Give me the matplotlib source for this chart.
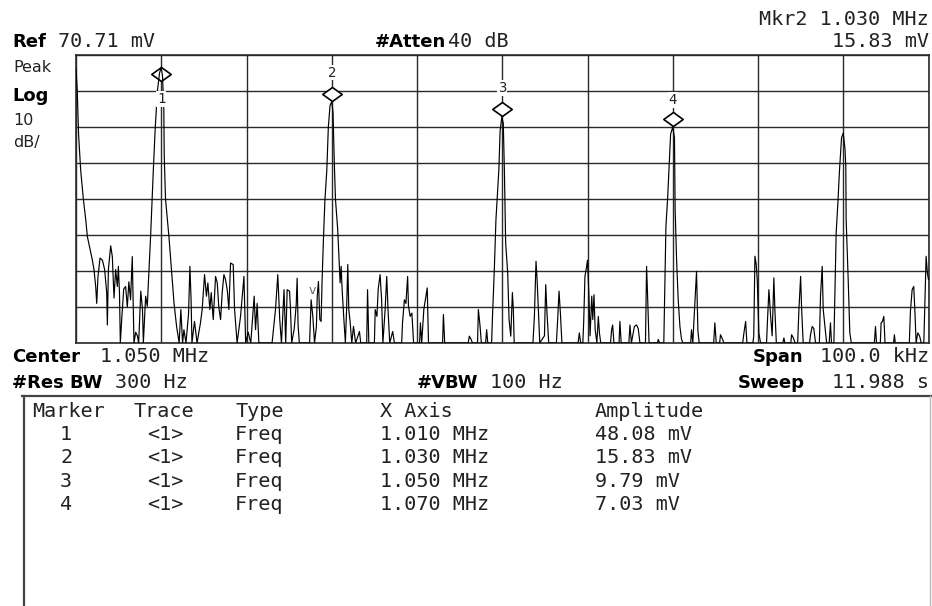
import numpy as np
import matplotlib
matplotlib.use('Agg')
import matplotlib.pyplot as plt
from matplotlib.path import Path
from matplotlib.transforms import offset_copy

# analyzer settings
ref_mv = 70.71
db_per_div = 10
n_ydiv = 8
center_mhz = 1.050
span_khz = 100.0

# trace: offset from start freq (kHz), level below ref (dB)
trace_khz = [
    0.0, 0.15, 0.3, 0.55, 0.86, 1.14, 1.33, 1.65, 1.92, 2.11, 2.31, 2.43, 2.58, 2.82, 3.1, 3.36,
    3.6, 3.68, 3.8, 4.07, 4.26, 4.46, 4.65, 4.85, 4.97, 5.1, 5.2, 5.4, 5.6, 5.82, 6.02, 6.2,
    6.4, 6.6, 6.8, 7.0, 7.2, 7.35, 7.6, 7.8, 7.9, 8.17, 8.36, 8.56, 8.75, 9.07, 9.3, 9.55,
    9.8, 10.0, 10.15, 10.3, 10.35, 10.5, 10.9, 11.2, 11.5, 11.8, 12.1, 12.3, 12.5, 12.66, 12.9, 13.2,
    13.36, 13.5, 13.6, 13.9, 14.2, 14.6, 14.8, 15.08, 15.3, 15.47, 15.7, 15.86, 16.1, 16.37, 16.57, 16.75,
    16.96, 17.15, 17.35, 17.54, 17.74, 17.93, 18.13, 18.44, 18.6, 18.9, 19.3, 19.7, 19.9, 20.2, 20.5, 20.9,
    21.06, 21.25, 21.45, 22.0, 23.0, 23.4, 23.67, 23.9, 24.1, 24.4, 24.6, 24.77, 25.05, 25.15, 25.3, 25.6,
    25.83, 25.94, 26.05, 26.2, 27.4, 27.58, 27.78, 27.98, 28.2, 28.3, 28.44, 28.6, 28.75, 28.87, 29.03, 29.2,
    29.42, 29.6, 29.8, 30.0, 30.15, 30.3, 30.44, 30.7, 30.79, 30.98, 31.1, 31.22, 31.4, 31.6, 31.75, 31.88,
    32.0, 32.15, 32.35, 32.55, 32.8, 33.25, 33.4, 34.1, 34.2, 34.35, 35.0, 35.1, 35.3, 35.45, 35.67, 35.85,
    36.0, 36.26, 36.45, 36.6, 36.8, 37.15, 37.35, 38.2, 38.3, 38.52, 38.7, 38.9, 39.0, 39.2, 39.4, 39.6,
    40.3, 40.4, 40.55, 40.8, 40.98, 41.2, 41.35, 43.0, 43.1, 43.25, 46.0, 46.14, 46.35, 46.5, 47.1, 47.2,
    47.4, 47.55, 48.05, 48.17, 48.3, 48.75, 48.87, 49.07, 49.26, 49.46, 49.6, 49.75, 49.95, 50.12, 50.25, 50.4,
    50.64, 50.8, 51.0, 51.19, 51.3, 51.4, 53.6, 53.77, 53.96, 54.1, 54.24, 54.4, 54.95, 55.1, 55.25, 55.45,
    56.35, 56.5, 56.66, 56.82, 57.0, 58.9, 59.04, 59.2, 59.45, 59.55, 59.7, 59.9, 60.0, 60.17, 60.3, 60.5,
    60.62, 60.76, 60.9, 61.1, 61.27, 61.4, 61.55, 62.7, 62.83, 62.95, 63.1, 63.7, 63.8, 63.95, 64.85, 64.98,
    65.15, 65.5, 65.76, 65.95, 66.15, 66.8, 66.93, 67.05, 67.22, 68.2, 68.3, 68.45, 68.95, 69.08, 69.2, 69.39,
    69.55, 69.75, 70.0, 70.2, 70.28, 70.45, 70.64, 70.84, 71.03, 71.2, 72.1, 72.2, 72.35, 72.6, 72.79, 72.95,
    73.1, 74.8, 74.94, 75.1, 75.5, 75.6, 75.85, 76.0, 78.2, 78.35, 78.55, 78.7, 79.4, 79.5, 79.64, 79.78,
    79.91, 80.1, 80.3, 81.0, 81.1, 81.28, 81.48, 81.66, 81.86, 81.98, 82.15, 82.9, 83.04, 83.15, 83.85, 83.94,
    84.15, 84.35, 84.65, 84.8, 85.0, 85.12, 85.3, 86.05, 86.16, 86.36, 86.55, 86.75, 87.2, 87.33, 87.53, 87.65,
    87.85, 88.05, 88.35, 88.5, 88.62, 88.9, 89.0, 89.17, 89.37, 89.56, 89.8, 90.0, 90.2, 90.3, 90.34, 90.58,
    90.77, 90.95, 93.65, 93.78, 93.9, 94.35, 94.44, 94.6, 94.76, 94.9, 95.9, 96.0, 96.1, 97.75, 97.88, 98.08,
    98.27, 98.4, 98.55, 98.74, 98.95, 99.15, 99.45, 99.56, 99.72, 99.87, 100.0,
]
trace_db = [
    -3.6, -10, -22, -32, -40, -45.7, -50.4, -54, -57, -59.6, -64.3, -69, -61.5, -56.4, -57, -59.6,
    -66, -75, -59.6, -53, -56, -67.5, -59.6, -64.3, -58.7, -66, -80, -72, -65, -64.3, -70, -63,
    -68, -56, -80, -77, -78, -80, -65.6, -70.7, -80, -67, -69.8, -59.6, -50.4, -32, -20, -10,
    -5, -3.4, -6, -15, -28, -40, -50.4, -59.6, -69, -75.4, -80, -70.7, -80, -76.3, -80, -72,
    -58.7, -68, -80, -74, -80, -74.4, -70.7, -61, -67, -63.3, -70.7, -66, -73.5, -61.5, -63.3, -70,
    -73.5, -66, -61, -62.4, -65.2, -70.7, -57.8, -58.2, -70.7, -80, -72.6, -61.5, -80, -77, -80, -67,
    -76.3, -69, -80, -80, -80, -70.7, -61, -73.5, -80, -65.2, -80, -65.2, -65.6, -70, -80, -76,
    -69.4, -62, -75, -80, -80, -68, -72.6, -80, -75.4, -67, -62.9, -73.5, -74, -62.4, -50.8, -40.2,
    -32, -20, -14, -13, -16, -30, -40.2, -48.5, -53.1, -63.3, -58.7, -65.2, -72.6, -80, -70, -58.2,
    -70.7, -74, -80, -75.4, -80, -76.8, -80, -80, -65.2, -80, -80, -70.7, -72.6, -65, -61, -68,
    -80, -70.7, -61.5, -70.7, -80, -76.8, -80, -80, -74.4, -68, -69, -61.5, -69.8, -72.6, -71.7, -80,
    -80, -74.4, -80, -70.7, -68, -64.7, -80, -80, -72.1, -80, -80, -78.1, -79, -80, -80, -70.7,
    -75.4, -80, -80, -76.3, -80, -80, -71.7, -59.6, -45.7, -37.4, -32, -21, -17.2, -19, -32, -52.2,
    -60.6, -73.5, -78.1, -66, -70.7, -80, -80, -72.6, -57.3, -63, -70.7, -80, -78, -63.8, -71.7, -80,
    -80, -73.5, -65.6, -71.7, -80, -80, -77.2, -80, -80, -74.4, -61.5, -58.7, -57, -67, -78, -67,
    -73.5, -66.6, -76.3, -80, -72.6, -77.2, -80, -80, -76.3, -75, -80, -80, -74, -80, -80, -75,
    -80, -75.4, -75, -76, -80, -80, -58.7, -67, -80, -80, -79, -80, -80, -62.4, -47.6, -40.2,
    -32, -22, -20, -23, -43, -56.9, -68, -75.4, -79, -80, -80, -76.3, -80, -68.9, -60.1, -76.6,
    -80, -80, -74.4, -80, -80, -77.7, -79, -80, -80, -77.2, -74, -80, -80, -78.1, -55.9, -58,
    -62.4, -77.2, -80, -80, -74.4, -65.2, -72.6, -78, -61.9, -70.7, -80, -80, -78.6, -80, -80, -77.7,
    -78.6, -80, -80, -70.7, -61.5, -70.7, -80, -80, -77.7, -75.4, -76, -80, -80, -67, -58.7, -70.7,
    -75.4, -80, -80, -74.4, -80, -80, -69, -49.4, -41.1, -32, -23, -21.7, -26, -31, -45.7, -62.4,
    -77.2, -80, -80, -75.4, -80, -80, -74.4, -74, -72.6, -80, -80, -77.7, -80, -80, -71.2, -65.2,
    -64.3, -71, -80, -77.2, -78, -80, -80, -69.8, -55.9, -60.6, -62.4,
]

# marker table
marker_ids = ['1', '2', '3', '4']
marker_mhz = [1.010, 1.030, 1.050, 1.070]
marker_mv = [48.08, 15.83, 9.79, 7.03]
marker_freq_txt = ['1.010 MHz', '1.030 MHz', '1.050 MHz', '1.070 MHz']
marker_amp_txt = ['48.08 mV', '15.83 mV', '9.79 mV', '7.03 mV']

W, H = 932, 606
fig = plt.figure(figsize=(W / 100, H / 100), dpi=100)
fig.patch.set_facecolor('white')

ref_dbmv = 20 * np.log10(ref_mv)
f_mhz = 1.0 + np.array(trace_khz) / 1000.0
lvl = ref_dbmv + np.array(trace_db)

# graticule
x0, x1, y0, y1 = 76, 928.5, 55, 343
ax = fig.add_axes([x0 / W, 1 - y1 / H, (x1 - x0) / W, (y1 - y0) / H])
f_lo = center_mhz - span_khz / 2000
f_hi = center_mhz + span_khz / 2000
ax.set_xlim(f_lo, f_hi)
ax.set_ylim(ref_dbmv - n_ydiv * db_per_div, ref_dbmv)
ax.set_xticks(np.linspace(f_lo, f_hi, 11))
ax.set_yticks(ref_dbmv - np.arange(n_ydiv + 1) * db_per_div)
ax.tick_params(length=0, labelbottom=False, labelleft=False)
ax.set_axisbelow(True)
ax.grid(True, color='#2a2a2a', lw=1.0)
for s in ax.spines.values():
    s.set_color('#2a2a2a')
    s.set_linewidth(1.2)

ax.plot(f_mhz, lvl, color='black', lw=0.85, zorder=4)

# marker diamonds and labels
diamond = Path([(-1, 0), (0, 0.72), (1, 0), (0, -0.72), (-1, 0)],
               [Path.MOVETO, Path.LINETO, Path.LINETO, Path.LINETO, Path.CLOSEPOLY])
diamond_dy = [-7, 8, 8, 8]
label_dy = [-32, 29, 29, 27]
for mid, fm, mv, ddy, ldy in zip(marker_ids, marker_mhz, marker_mv, diamond_dy, label_dy):
    ym = 20 * np.log10(mv)
    tr = offset_copy(ax.transData, fig=fig, x=0, y=ddy, units='dots')
    ax.plot([fm], [ym], marker=diamond, ms=14, mfc='white', mec='black', mew=1.2,
            transform=tr, zorder=3, clip_on=False)
    ax.annotate(mid, xy=(fm, ym), xytext=(0, ldy), textcoords='offset pixels',
                ha='center', va='center', fontsize=10, family='DejaVu Sans Mono',
                color='#222', zorder=6,
                bbox=dict(boxstyle='square,pad=0.05', fc='white', ec='none'))

# display line marker
ax.text(1.02767, ref_dbmv - 65.5, 'v', ha='center', va='center', fontsize=9,
        color='#666', zorder=5)

# annotation overlay in pixel coordinates
ov = fig.add_axes([0, 0, 1, 1], zorder=-1)
ov.set_xlim(0, W)
ov.set_ylim(H, 0)
ov.axis('off')

mono = dict(family='DejaVu Sans Mono', fontsize=14.5, color='#222', va='baseline')
bold = dict(family='DejaVu Sans', fontweight='bold', fontsize=13, color='black', va='baseline')
reg = dict(family='DejaVu Sans', fontsize=11.5, color='#222', va='baseline')

ov.text(12, 47, 'Ref', ha='left', **bold)
ov.text(58, 47, '70.71 mV', ha='left', **mono)
ov.text(375, 47, '#Atten', ha='left', **bold)
ov.text(448, 47, '40 dB', ha='left', **mono)
ov.text(929, 25, 'Mkr2 1.030 MHz', ha='right', **mono)
ov.text(929, 47, '15.83 mV', ha='right', **mono)

ov.text(13, 72, 'Peak', ha='left', **reg)
ov.text(12, 101, 'Log', ha='left', **bold)
ov.text(13, 125, '10', ha='left', **reg)
ov.text(13, 147, 'dB/', ha='left', **reg)

ov.text(12, 362, 'Center', ha='left', **bold)
ov.text(100, 362, '1.050 MHz', ha='left', **mono)
ov.text(753, 362, 'Span', ha='left', **bold)
ov.text(929, 362, '100.0 kHz', ha='right', **mono)
ov.text(12, 388, '#Res BW', ha='left', **bold)
ov.text(115, 388, '300 Hz', ha='left', **mono)
ov.text(417, 388, '#VBW', ha='left', **bold)
ov.text(490, 388, '100 Hz', ha='left', **mono)
ov.text(738, 388, 'Sweep', ha='left', **bold)
ov.text(929, 388, '11.988 s', ha='right', **mono)

# marker table box
ov.plot([22, W], [396, 396], color='#444', lw=1.6)
ov.plot([24, 24], [396, H], color='#444', lw=1.6)
ov.plot([930, 930], [396, H], color='#bbb', lw=1.0)

col_x = [32, 133, 235, 380, 595]
for cx, head in zip(col_x, ['Marker', 'Trace', 'Type', 'X Axis', 'Amplitude']):
    ov.text(cx, 417, head, ha='left', **mono)
row_y = [440, 463.3, 486.7, 510]
for ry, mid, ft, at in zip(row_y, marker_ids, marker_freq_txt, marker_amp_txt):
    ov.text(60, ry, mid, ha='left', **mono)
    ov.text(147, ry, '<1>', ha='left', **mono)
    ov.text(235, ry, 'Freq', ha='left', **mono)
    ov.text(380, ry, ft, ha='left', **mono)
    ov.text(595, ry, at, ha='left', **mono)

fig.savefig('out.png', dpi=100, facecolor='white')
